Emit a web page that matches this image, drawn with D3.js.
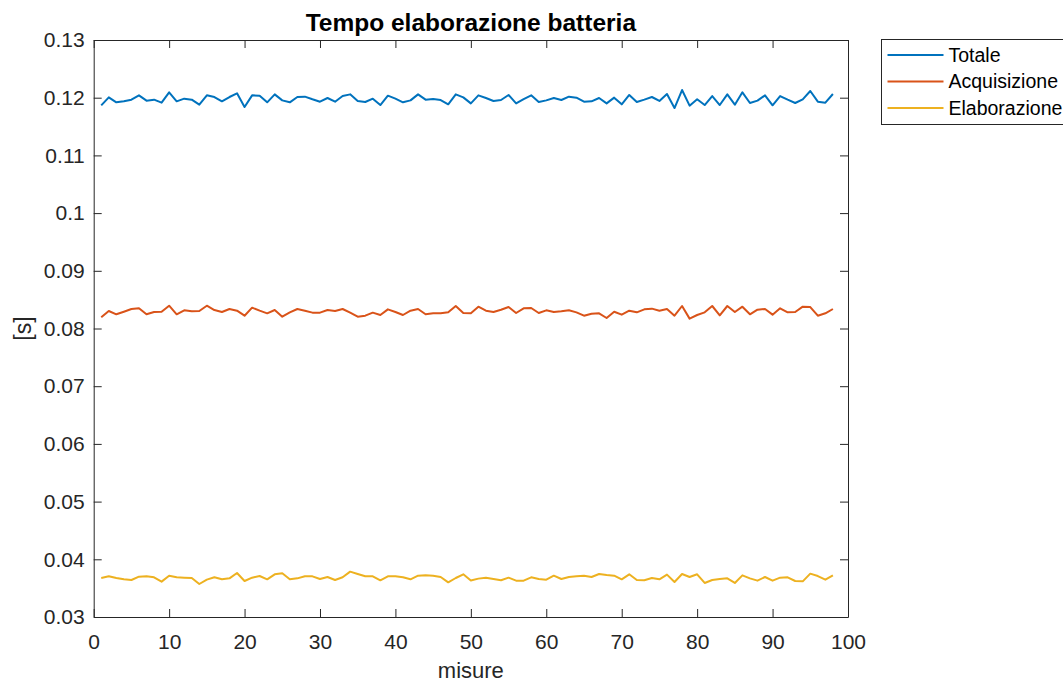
<!DOCTYPE html>
<html lang="it">
<head>
  <meta charset="UTF-8">
  <title>Tempo elaborazione batteria</title>
  <style>
    body { margin: 0; background: #fff; overflow: hidden; }
    svg { font-family: "Liberation Sans", Arial, sans-serif; }
    .axis text { fill: #262626; font-size: 21px; }
    .axis line, .axis path { stroke: #262626; }
  </style>
</head>
<body>
  <script src="https://d3js.org/d3.v7.min.js"></script>
  <script>
    // misure 1..98
    const totale = [0.11868,0.12006,0.1192,0.11937,0.11966,0.12041,0.11949,0.11966,0.11914,0.12093,
      0.11937,0.11983,0.11966,0.11879,0.12041,0.12012,0.11937,0.12012,0.12076,0.11839,
      0.12041,0.12035,0.1192,0.12058,0.11954,0.1192,0.12012,0.12018,0.11972,0.11931,
      0.11995,0.11931,0.12029,0.12058,0.11943,0.11925,0.11983,0.11873,0.12035,0.11983,
      0.1192,0.11954,0.12058,0.11966,0.11977,0.1196,0.11885,0.12058,0.12006,0.11902,
      0.12041,0.11995,0.11943,0.1196,0.12047,0.11902,0.11977,0.12041,0.11925,0.11954,
      0.11995,0.1196,0.12018,0.12001,0.11931,0.11937,0.11995,0.11902,0.12001,0.11885,
      0.12047,0.11925,0.11966,0.12012,0.11943,0.12064,0.11821,0.12133,0.11862,0.11972,
      0.11873,0.12029,0.11873,0.12058,0.11879,0.12093,0.11908,0.11949,0.12041,0.11868,
      0.12029,0.11966,0.11908,0.11972,0.12116,0.11931,0.11914,0.12064];

    const acquisizione = [0.08194,0.08303,0.08246,0.08291,0.08338,0.0835,0.08246,0.08286,0.08291,0.08395,
      0.08246,0.08315,0.08297,0.08303,0.08395,0.0832,0.08286,0.08338,0.08309,0.08222,
      0.08361,0.08309,0.08263,0.0832,0.08205,0.0828,0.08338,0.08309,0.08275,0.08275,
      0.0832,0.08303,0.08338,0.08275,0.08205,0.08222,0.08275,0.08234,0.08332,0.08286,
      0.08234,0.08309,0.08338,0.08246,0.08263,0.08263,0.0828,0.0839,0.08269,0.08266,
      0.08378,0.08309,0.08286,0.08326,0.08372,0.08269,0.0835,0.08355,0.08269,0.08315,
      0.08286,0.08297,0.08315,0.0828,0.08222,0.08257,0.08263,0.08182,0.08291,0.0824,
      0.08309,0.0828,0.08332,0.08344,0.08309,0.08338,0.08222,0.0839,0.08171,0.08234,
      0.0828,0.0839,0.08228,0.0839,0.08286,0.08378,0.08246,0.08326,0.08338,0.0824,
      0.0835,0.0828,0.08286,0.08378,0.08372,0.08222,0.08263,0.08338];

    const elaborazione = [0.03676,0.03705,0.03676,0.03653,0.03641,0.03699,0.03705,0.03688,0.03613,0.03716,
      0.03688,0.03682,0.03676,0.03572,0.03647,0.03688,0.03653,0.0367,0.03763,0.03624,
      0.03682,0.0371,0.03653,0.0374,0.03757,0.03653,0.0367,0.03705,0.03705,0.03659,
      0.03693,0.03641,0.03688,0.03786,0.03745,0.03705,0.03705,0.03636,0.03705,0.03705,
      0.03688,0.03653,0.03716,0.03722,0.03716,0.03693,0.03601,0.03676,0.0374,0.03633,
      0.03665,0.03682,0.03659,0.03636,0.03682,0.0363,0.0363,0.03688,0.03659,0.03647,
      0.03716,0.03659,0.03693,0.03705,0.03716,0.03693,0.03745,0.03728,0.03716,0.03653,
      0.0374,0.03641,0.03636,0.03676,0.03653,0.03734,0.03607,0.03745,0.03693,0.0374,
      0.0359,0.03641,0.03659,0.0367,0.0359,0.03722,0.0367,0.0363,0.03693,0.0363,
      0.03682,0.03688,0.03624,0.03618,0.03751,0.0371,0.03647,0.03722];

    const seriesNames = ["Totale", "Acquisizione", "Elaborazione"];
    const seriesColors = ["#0072BD", "#D95319", "#EDB120"];
    const xTicks = [0, 10, 20, 30, 40, 50, 60, 70, 80, 90, 100];
    const yTicks = [0.03, 0.04, 0.05, 0.06, 0.07, 0.08, 0.09, 0.1, 0.11, 0.12, 0.13];

    const width = 1063, height = 684;
    const margin = {top: 40, right: 215, bottom: 67, left: 93.7};
    const innerW = width - margin.left - margin.right;
    const innerH = height - margin.top - margin.bottom;

    const svg = d3.select("body").append("svg").attr("width", width).attr("height", height);
    const g = svg.append("g").attr("transform", `translate(${margin.left},${margin.top})`);

    const x = d3.scaleLinear().domain([0, 100]).range([0, innerW]);
    const y = d3.scaleLinear().domain([0.03, 0.13]).range([innerH, 0]);
    const fmt = d => String(+d.toFixed(2));

    // assi con tacche verso l'interno, come matlab
    g.append("g").attr("class", "axis").attr("transform", `translate(0,${innerH})`)
      .call(d3.axisBottom(x).tickValues(xTicks).tickSizeInner(-8).tickSizeOuter(0).tickPadding(17));
    g.append("g").attr("class", "axis")
      .call(d3.axisTop(x).tickValues(xTicks).tickSizeInner(-8).tickSizeOuter(0).tickFormat(""));
    g.append("g").attr("class", "axis")
      .call(d3.axisLeft(y).tickValues(yTicks).tickSizeInner(-8).tickSizeOuter(0).tickPadding(9).tickFormat(fmt));
    g.append("g").attr("class", "axis").attr("transform", `translate(${innerW},0)`)
      .call(d3.axisRight(y).tickValues(yTicks).tickSizeInner(-8).tickSizeOuter(0).tickFormat(""));
    g.selectAll(".axis .tick text").attr("fill", "#262626");

    const line = d3.line().x((d, i) => x(i + 1)).y(d => y(d));
    [totale, acquisizione, elaborazione].forEach((s, k) => {
      g.append("path").datum(s)
        .attr("fill", "none").attr("stroke", seriesColors[k])
        .attr("stroke-width", 2).attr("stroke-linejoin", "round")
        .attr("d", line);
    });

    svg.append("text").attr("x", margin.left + innerW / 2).attr("y", 31)
      .attr("text-anchor", "middle").attr("font-size", "24.5px").attr("font-weight", "bold")
      .attr("fill", "#000").text("Tempo elaborazione batteria");

    svg.append("text").attr("x", margin.left + innerW / 2).attr("y", 678)
      .attr("text-anchor", "middle").attr("font-size", "22px").attr("fill", "#262626")
      .text("misure");

    svg.append("text").attr("transform", `translate(31,${margin.top + innerH / 2}) rotate(-90)`)
      .attr("text-anchor", "middle").attr("font-size", "23px").attr("fill", "#262626")
      .text("[s]");

    // legenda
    const legend = svg.append("g").attr("transform", "translate(881.5,39.5)");
    legend.append("rect").attr("width", 200).attr("height", 85)
      .attr("fill", "#fff").attr("stroke", "#262626").attr("stroke-width", 1);
    seriesNames.forEach((name, k) => {
      const row = legend.append("g").attr("transform", `translate(0,${15.5 + k * 26.5})`);
      row.append("line").attr("x1", 6).attr("x2", 62)
        .attr("stroke", seriesColors[k]).attr("stroke-width", 2);
      row.append("text").attr("x", 67).attr("dy", "0.35em")
        .attr("font-size", "19.5px").attr("fill", "#000").text(name);
    });
  </script>
</body>
</html>
